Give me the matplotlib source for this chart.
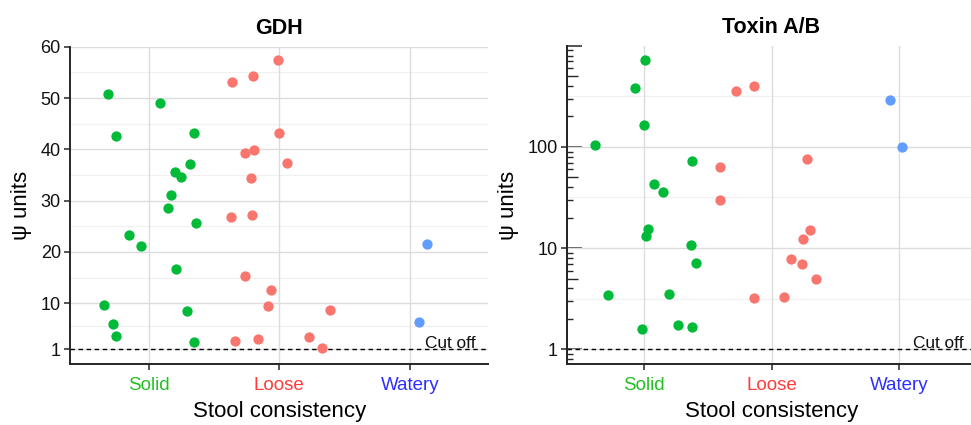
import matplotlib
matplotlib.use("Agg")
import matplotlib.pyplot as plt
import numpy as np
from matplotlib.ticker import FixedLocator, NullFormatter

plt.rcParams['font.family'] = ['Liberation Sans', 'DejaVu Sans']

# ---------------- data ----------------
categories = ["Solid", "Loose", "Watery"]
cat_label_colors = ["#22C022", "#FF3B3B", "#2E2EFF"]
point_colors = ["#00BA38", "#F8766D", "#619CFF"]

# GDH (linear scale)
gdh_solid = [50.7, 42.5, 49.1, 43.1, 37.2, 35.6, 34.6, 31.0, 28.6, 25.6, 23.3, 21.2, 16.6, 9.7, 8.4, 6.0, 3.6, 2.4]
gdh_solid_jit = [-0.31, -0.25, 0.09, 0.35, 0.32, 0.20, 0.25, 0.17, 0.15, 0.36, -0.15, -0.055, 0.21, -0.34, 0.29, -0.27, -0.25, 0.35]
gdh_loose = [57.4, 54.2, 53.1, 43.1, 39.9, 39.2, 37.3, 34.4, 26.9, 27.2, 15.3, 12.5, 9.5, 8.6, 2.6, 3.1, 3.4, 1.2]
gdh_loose_jit = [-0.01, -0.205, -0.36, 0.0, -0.195, -0.26, 0.06, -0.22, -0.37, -0.21, -0.26, -0.06, -0.09, 0.39, -0.34, -0.16, 0.23, 0.33]
gdh_watery = [21.5, 6.3]
gdh_watery_jit = [0.13, 0.07]

# Toxin A/B (log scale)
tox_solid = [725, 380, 165, 104, 72, 43, 36, 15.5, 13.1, 10.8, 7.2, 3.44, 3.55, 1.58, 1.72, 1.67]
tox_solid_jit = [0.01, -0.07, 0.0, -0.38, 0.38, 0.08, 0.15, 0.03, 0.02, 0.37, 0.41, -0.28, 0.2, -0.01, 0.27, 0.38]
tox_loose = [360, 404, 76, 63, 29.6, 15.2, 12.3, 7.8, 7.0, 5.0, 3.18, 3.26]
tox_loose_jit = [-0.28, -0.14, 0.28, -0.4, -0.4, 0.30, 0.25, 0.15, 0.24, 0.35, -0.14, 0.10]
tox_watery = [291, 100]
tox_watery_jit = [-0.075, 0.02]

gdh_ticks = [1, 10, 20, 30, 40, 50, 60]
tox_ticks = [1, 10, 100]
cutoff = 1

# ---------------- figure ----------------
W, H = 971, 425
fig = plt.figure(figsize=(W / 100, H / 100), dpi=100)
fig.patch.set_facecolor("white")

def px_axes(x0, x1, y0, y1):
    return fig.add_axes([x0 / W, 1 - y1 / H, (x1 - x0) / W, (y1 - y0) / H])

ax1 = px_axes(70.3, 488.3, 46.7, 364.3)
ax2 = px_axes(567.0, 976.0, 45.7, 364.3)

axis_col = "#262626"
major_grid = "#DCDCDC"
minor_grid = "#F0F0F0"

def common(ax, title):
    ax.set_xlim(-0.6, 2.6)
    for s in ["top", "right"]:
        ax.spines[s].set_visible(False)
    for s in ["left", "bottom"]:
        ax.spines[s].set_color(axis_col)
        ax.spines[s].set_linewidth(1.4)
    ax.set_xticks(range(len(categories)))
    ax.set_xticklabels(categories, fontsize=13.5)
    for lbl, c in zip(ax.get_xticklabels(), cat_label_colors):
        lbl.set_color(c)
    ax.tick_params(axis="x", direction="out", length=4, width=1.1, color=axis_col, pad=5)
    ax.tick_params(axis="y", which="major", direction="out", length=4.3, width=1.1,
                   color=axis_col, labelsize=13, labelcolor="#111111", pad=2.5)
    ax.set_axisbelow(True)
    ax.xaxis.grid(True, color=major_grid, lw=1.0)
    ax.yaxis.grid(True, which="major", color=major_grid, lw=1.0)
    ax.set_title(title, fontsize=15.5, fontweight="bold", pad=9)
    ax.set_xlabel("Stool consistency", fontsize=16, labelpad=5)
    ax.set_ylabel("ψ units", fontsize=16, labelpad=6)
    ax.axhline(cutoff, color="black", lw=1.0, ls=(0, (3.2, 2.6)), zorder=1.5)
    ax.annotate("Cut off", xy=(2.5, cutoff), xytext=(0, 1.2), textcoords="offset points",
                ha="right", va="baseline", fontsize=12.4, color="#111111")

def scatter_groups(ax, groups):
    for i, (vals, jit) in enumerate(groups):
        ax.scatter(np.array(jit) + i, vals, s=55, color=point_colors[i], linewidths=0, zorder=3)

# ---- GDH ----
common(ax1, "GDH")
ax1.set_ylim(-1.9, 60)
ax1.set_yticks(gdh_ticks)
brk = np.array(gdh_ticks, dtype=float)
for m in (brk[:-1] + brk[1:]) / 2:
    ax1.axhline(m, color=minor_grid, lw=0.9, zorder=0.5)
scatter_groups(ax1, [(gdh_solid, gdh_solid_jit), (gdh_loose, gdh_loose_jit), (gdh_watery, gdh_watery_jit)])

# ---- Toxin A/B ----
ax2.set_yscale("log")
common(ax2, "Toxin A/B")
ax2.set_ylim(0.71, 1000)
ax2.yaxis.set_major_locator(FixedLocator(tox_ticks))
ax2.set_yticklabels([str(t) for t in tox_ticks])
short_ticks = [d * k for d in (0.1, 1, 10, 100) for k in (2, 3, 4, 6, 7, 8, 9) if 0.71 <= d * k <= 1000]
ax2.yaxis.set_minor_locator(FixedLocator(short_ticks))
ax2.yaxis.set_minor_formatter(NullFormatter())
ax2.tick_params(axis="y", which="minor", direction="in", length=4.3, width=1.0, color=axis_col)
for d in (1, 10, 100):
    ax2.axhline(d * np.sqrt(10), color=minor_grid, lw=0.9, zorder=0.5)

sec = ax2.secondary_yaxis("left")
sec.set_yticks([1, 10, 100, 1000])
sec.set_yticklabels([])
sec.yaxis.set_minor_locator(FixedLocator([5, 50, 500]))
sec.yaxis.set_minor_formatter(NullFormatter())
sec.tick_params(which="major", direction="in", length=10.8, width=1.1, color=axis_col)
sec.tick_params(which="minor", direction="in", length=7.6, width=1.0, color=axis_col)
sec.spines["left"].set_color(axis_col)
sec.spines["left"].set_linewidth(1.4)

scatter_groups(ax2, [(tox_solid, tox_solid_jit), (tox_loose, tox_loose_jit), (tox_watery, tox_watery_jit)])

fig.savefig("out.png", dpi=100, facecolor="white")
